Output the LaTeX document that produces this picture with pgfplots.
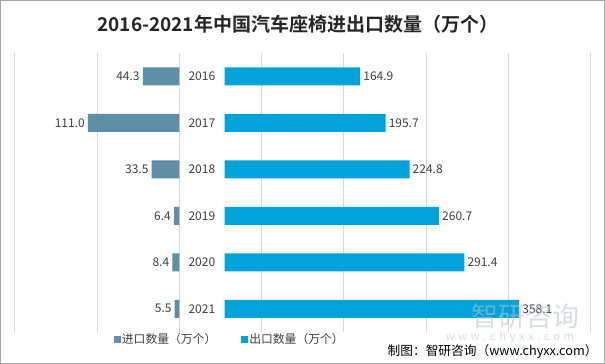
\documentclass[border=0pt]{standalone}
\usepackage{fontspec}
\setmainfont{Noto Sans CJK SC}[BoldFont={Noto Sans CJK SC Bold}]
\usepackage{pgfplots}
\pgfplotsset{compat=1.18}
\usepackage{pgfplotstable}
\definecolor{impc}{HTML}{5E8FA7}
\definecolor{expc}{HTML}{00A2DA}
\definecolor{lblc}{HTML}{404040}
\definecolor{gridc}{HTML}{D9D9D9}
\definecolor{framec}{HTML}{A6A6A6}
\definecolor{wmc}{HTML}{B8C2CC}
\pgfkeys{/pgf/number format/assume math mode=true}

\pgfplotstableread{
y v neg mid label
0 44.3 -44.3 27.5 2016
1 111.0 -111.0 27.5 2017
2 33.5 -33.5 27.5 2018
3 6.4 -6.4 27.5 2019
4 8.4 -8.4 27.5 2020
5 5.5 -5.5 27.5 2021
}\imptable

\pgfplotstableread{
y v pad end
0 164.9 55 219.9
1 195.7 55 250.7
2 224.8 55 279.8
3 260.7 55 315.7
4 291.4 55 346.4
5 358.1 55 413.1
}\exptable

\pgfplotsset{base/.style={
  at={(14.7bp,32bp)}, anchor=south west, scale only axis,
  width=576bp, height=279bp,
  xmin=-200, xmax=500, ymin=-0.5, ymax=5.5, y dir=reverse,
  axis line style={draw=none}, tick style={draw=none},
  ytick=\empty, clip=false,
  /pgf/number format/.cd, fixed, fixed zerofill, precision=1, assume math mode=true
}}

\begin{document}
\begin{tikzpicture}
\useasboundingbox (0,0) rectangle (605bp,364bp);
\fill[white] (0,0) rectangle (605bp,364bp);

\begin{axis}[base,
  xtick={-200,-100,0,100,200,300,400,500}, xticklabels={},
  xmajorgrids, major grid style={gridc, line width=0.8bp}]
\addplot[xbar, bar shift=0pt, bar width=18bp, fill=impc, draw=none,
  point meta=explicit, nodes near coords,
  every node near coord/.append style={anchor=east, text=lblc, font=\fontsize{12bp}{14bp}\selectfont, inner sep=3bp}]
  table[x=neg, y=y, meta=v] {\imptable};
\addplot[draw=none, mark=none, point meta=explicit symbolic, nodes near coords,
  every node near coord/.append style={anchor=center, text=lblc, font=\fontsize{12bp}{14bp}\selectfont}]
  table[x=mid, y=y, meta=label] {\imptable};
\end{axis}

\begin{axis}[base, xtick=\empty, xbar stacked, bar width=18bp,
  legend style={at={(0.3726,0)}, anchor=center, yshift=-7.5bp, draw=none, fill=none,
    legend columns=2, font=\fontsize{11.8bp}{13bp}\selectfont, text=lblc,
    /tikz/every even column/.append style={column sep=24bp},
    nodes={inner sep=1bp}},
  legend image code/.code={\fill[#1] (0bp,-3.5bp) rectangle (7bp,3.5bp);}]
\addlegendimage{fill=impc, draw=none}
\addlegendentry{进口数量（万个）}
\addplot[fill=none, draw=none, forget plot] table[x=pad, y=y] {\exptable};
\addplot[fill=expc, draw=none] table[x=v, y=y] {\exptable};
\addlegendentry{出口数量（万个）}
\end{axis}

\begin{axis}[base, xtick=\empty]
\addplot[draw=none, mark=none, point meta=explicit, nodes near coords,
  every node near coord/.append style={anchor=west, text=lblc, font=\fontsize{12bp}{14bp}\selectfont, inner sep=3bp}]
  table[x=end, y=y, meta=v] {\exptable};
\end{axis}

% title
\node[font=\bfseries\fontsize{19bp}{22bp}\selectfont, text=black!85] at (297.8bp,340bp) {2016-2021年中国汽车座椅进出口数量（万个）};
% source
\node[anchor=east, font=\fontsize{12.7bp}{15bp}\selectfont, text=black] at (601bp,12bp) {制图：智研咨询（www.chyxx.com）};
% watermark
\node[font=\fontsize{27bp}{30bp}\selectfont, text=wmc, opacity=0.55] at (525bp,48bp) {智研咨询};
\node[font=\fontsize{11bp}{13bp}\selectfont, text=wmc, opacity=0.55] at (510bp,27bp) {w\,\,w\,\,w\,\,.\,\,c\,\,h\,\,y\,\,x\,\,x\,\,.\,\,c\,\,o\,\,m};
% frame
\draw[framec, line width=1bp] (0.5bp,0.5bp) rectangle (604.5bp,363.5bp);
\end{tikzpicture}
\end{document}
